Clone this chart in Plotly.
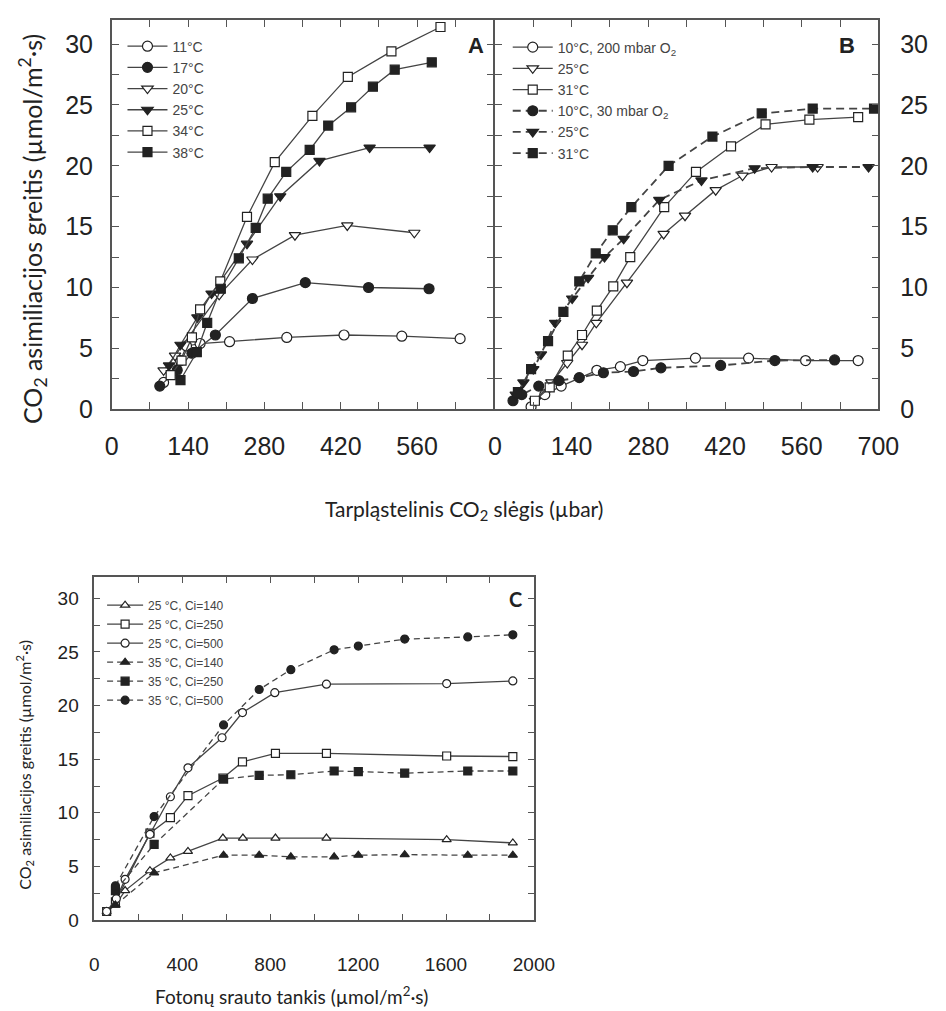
import plotly.graph_objects as go

# ---------------- DATA ----------------
# Panel A: intercellular CO2 (µbar) vs assimilation rate
a11_x = [95, 110, 126, 137, 162, 216, 321, 426, 532, 639]
a11_y = [2.2, 3.3, 4.0, 5.2, 5.4, 5.55, 5.9, 6.1, 6.0, 5.8]
a17_x = [88, 120, 147, 190, 258, 355, 471, 582]
a17_y = [1.9, 3.2, 4.6, 6.1, 9.1, 10.4, 10.0, 9.9]
a20_x = [95, 116, 197, 258, 336, 432, 555]
a20_y = [3.2, 4.4, 9.4, 12.3, 14.3, 15.1, 14.5]
a25_x = [105, 126, 157, 183, 248, 309, 381, 473, 583]
a25_y = [3.6, 5.3, 7.55, 9.5, 13.6, 17.5, 20.4, 21.5, 21.5]
a34_x = [108, 128, 147, 162, 199, 248, 299, 368, 433, 513, 603]
a34_y = [2.8, 4.0, 5.9, 8.2, 10.5, 15.8, 20.3, 24.1, 27.3, 29.4, 31.4]
a38_x = [126, 156, 175, 200, 233, 264, 286, 320, 363, 397, 439, 479, 519, 587]
a38_y = [2.4, 4.7, 7.1, 9.9, 12.4, 14.9, 17.3, 19.5, 21.3, 23.3, 24.8, 26.5, 27.9, 28.5]

# Panel B: 200 mbar O2 (open) and 30 mbar O2 (filled)
b10o_x = [66, 91, 121, 186, 229, 270, 366, 463, 567, 663]
b10o_y = [0.2, 1.2, 1.9, 3.2, 3.5, 4.0, 4.2, 4.2, 4.0, 4.0]
b25o_x = [73, 103, 132, 159, 185, 241, 308, 347, 403, 452, 505, 589]
b25o_y = [0.7, 2.2, 3.8, 5.3, 7.1, 10.4, 14.4, 15.9, 18.0, 19.2, 19.9, 19.9]
b31o_x = [73, 100, 133, 159, 186, 216, 247, 309, 367, 431, 494, 574, 663]
b31o_y = [0.7, 1.8, 4.4, 6.1, 8.1, 10.1, 12.5, 16.6, 19.5, 21.6, 23.4, 23.8, 24.0]
b10f_x = [33, 49, 80, 117, 154, 198, 253, 303, 412, 511, 620]
b10f_y = [0.7, 1.2, 1.9, 2.35, 2.6, 3.0, 3.1, 3.4, 3.6, 4.0, 4.05]
b25f_x = [38, 52, 70, 84, 110, 141, 170, 200, 235, 300, 377, 474, 580, 682]
b25f_y = [1.2, 2.2, 3.3, 4.5, 7.1, 9.1, 10.8, 12.5, 14.0, 17.2, 18.8, 19.8, 19.9, 19.9]
b31f_x = [42, 66, 97, 125, 154, 184, 215, 249, 317, 397, 487, 580, 692]
b31f_y = [1.4, 3.3, 5.6, 8.0, 10.5, 12.8, 14.7, 16.6, 20.0, 22.4, 24.3, 24.7, 24.7]

# Panel C: photon flux density vs assimilation rate
c25_140_x = [56, 96, 140, 253, 346, 426, 585, 676, 824, 1056, 1603, 1904]
c25_140_y = [0.8, 1.4, 2.75, 4.6, 5.8, 6.4, 7.65, 7.65, 7.65, 7.65, 7.5, 7.2]
c25_250_x = [56, 96, 253, 346, 426, 585, 674, 824, 1056, 1603, 1904]
c25_250_y = [0.8, 1.7, 8.1, 9.55, 11.6, 13.25, 14.75, 15.55, 15.55, 15.3, 15.25]
c25_500_x = [56, 100, 140, 253, 346, 426, 581, 674, 821, 1056, 1603, 1904]
c25_500_y = [0.8, 2.0, 3.8, 8.0, 11.5, 14.2, 17.0, 19.35, 21.2, 22.0, 22.05, 22.3]
c35_x = [96, 272, 588, 750, 894, 1091, 1201, 1412, 1699, 1904]
c35_140_y = [1.4, 4.4, 6.05, 6.05, 5.9, 5.9, 6.05, 6.1, 6.05, 6.05]
c35_250_y = [2.75, 7.05, 13.15, 13.5, 13.55, 13.9, 13.85, 13.7, 13.9, 13.9]
c35_500_y = [3.2, 9.65, 18.2, 21.5, 23.35, 25.2, 25.55, 26.2, 26.4, 26.6]

ab_ticks = [0, 70, 140, 210, 280, 350, 420, 490, 560, 630, 700]
a_ticktext = ["0", "", "140", "", "280", "", "420", "", "560", "", ""]
b_ticktext = ["0", "", "140", "", "280", "", "420", "", "560", "", "700"]
c_ticks = [0, 200, 400, 600, 800, 1000, 1200, 1400, 1600, 1800, 2000]
c_ticktext = ["0", "", "400", "", "800", "", "1200", "", "1600", "", "2000"]
y_ticks = [0, 2.5, 5, 7.5, 10, 12.5, 15, 17.5, 20, 22.5, 25, 27.5, 30]
y_ticktext = ["0", "", "5", "", "10", "", "15", "", "20", "", "25", "", "30"]

# ---------------- LAYOUT HELPERS ----------------
W, H = 946, 1011
def fx(p): return p / W
def fy(p): return 1 - p / H

LINE = "#444444"
EDGE = "#222222"

fig = go.Figure()

def add(x, y, name, symbol, filled, xa, ya, legend, dash="solid", size=10, lw=1.3):
    fig.add_trace(go.Scatter(
        x=x, y=y, name=name, mode="lines+markers",
        xaxis=xa, yaxis=ya, legend=legend,
        line=dict(color=LINE, width=lw, dash=dash),
        marker=dict(symbol=symbol, size=size,
                    color=EDGE if filled else "white",
                    line=dict(color=EDGE, width=1.2)),
    ))

# Panel A
add(a11_x, a11_y, "11°C", "circle", False, "x", "y", "legend")
add(a17_x, a17_y, "17°C", "circle", True, "x", "y", "legend")
add(a20_x, a20_y, "20°C", "triangle-down", False, "x", "y", "legend")
add(a25_x, a25_y, "25°C", "triangle-down", True, "x", "y", "legend")
add(a34_x, a34_y, "34°C", "square", False, "x", "y", "legend", size=9)
add(a38_x, a38_y, "38°C", "square", True, "x", "y", "legend", size=9)

# Panel B
BD = "8px,5px"
add(b10o_x, b10o_y, "10°C, 200 mbar O<sub>2</sub>", "circle", False, "x2", "y2", "legend2")
add(b25o_x, b25o_y, "25°C", "triangle-down", False, "x2", "y2", "legend2")
add(b31o_x, b31o_y, "31°C", "square", False, "x2", "y2", "legend2", size=9)
add(b10f_x, b10f_y, "10°C, 30 mbar O<sub>2</sub>", "circle", True, "x2", "y2", "legend2", dash=BD, lw=1.8)
add(b25f_x, b25f_y, "25°C", "triangle-down", True, "x2", "y2", "legend2", dash=BD, lw=1.8)
add(b31f_x, b31f_y, "31°C", "square", True, "x2", "y2", "legend2", dash=BD, size=9, lw=1.8)

# Panel C
CD = "6px,4px"
add(c25_140_x, c25_140_y, "25 °C, Ci=140", "triangle-up", False, "x3", "y3", "legend3", size=8)
add(c25_250_x, c25_250_y, "25 °C, Ci=250", "square", False, "x3", "y3", "legend3", size=8)
add(c25_500_x, c25_500_y, "25 °C, Ci=500", "circle", False, "x3", "y3", "legend3", size=8)
add(c35_x, c35_140_y, "35 °C, Ci=140", "triangle-up", True, "x3", "y3", "legend3", dash=CD, size=8)
add(c35_x, c35_250_y, "35 °C, Ci=250", "square", True, "x3", "y3", "legend3", dash=CD, size=8)
add(c35_x, c35_500_y, "35 °C, Ci=500", "circle", True, "x3", "y3", "legend3", dash=CD, size=8)

TICKFONT = dict(family="Liberation Sans, Arial, sans-serif", size=25, color="#222")
TICKFONT_C = dict(family="Liberation Sans, Arial, sans-serif", size=19, color="#222")
LW = 1.6

def axis(domain, rng, tv, tt, font, anchor, side=None, standoff=6, ticklen=7):
    d = dict(domain=domain, range=rng, tickmode="array", tickvals=tv, ticktext=tt,
             showline=True, linecolor="#555", linewidth=LW, mirror="ticks",
             ticks="inside", ticklen=ticklen, tickwidth=1.4, tickcolor="#555",
             showgrid=False, zeroline=False, tickfont=font, anchor=anchor,
             ticklabelstandoff=standoff)
    if side:
        d["side"] = side
    return d

ABy = [fy(415), fy(20)]
A_dom = [fx(108), fx(502 - LW / 2)]
B_dom = [fx(502 + LW / 2), fx(898)]
LEGF = "Liberation Sans, Arial, sans-serif"
fig.update_layout(
    width=W, height=H, margin=dict(l=0, r=0, t=0, b=0),
    paper_bgcolor="white", plot_bgcolor="white", showlegend=True,
    xaxis=axis(A_dom, [0, 700], ab_ticks, a_ticktext, TICKFONT, "y", standoff=14),
    yaxis=axis(ABy, [0, 32], y_ticks, y_ticktext, TICKFONT, "x", standoff=12),
    xaxis2=axis(B_dom, [0, 700], ab_ticks, b_ticktext, TICKFONT, "y2", standoff=14),
    yaxis2=axis(ABy, [0, 32], y_ticks, y_ticktext, TICKFONT, "x2", side="right", standoff=15),
    xaxis3=axis([fx(90), fx(543)], [0, 2000], c_ticks, c_ticktext, TICKFONT_C, "y3", standoff=26, ticklen=6),
    yaxis3=axis([fy(933), fy(585)], [0, 32], y_ticks, y_ticktext, TICKFONT_C, "x3", standoff=10, ticklen=6),
    legend=dict(x=fx(119), y=fy(31), xanchor="left", yanchor="top", bgcolor="rgba(0,0,0,0)",
                font=dict(family=LEGF, size=14, color="#444"),
                itemwidth=40, tracegroupgap=0),
    legend2=dict(x=fx(516), y=fy(32), xanchor="left", yanchor="top", bgcolor="rgba(0,0,0,0)",
                 font=dict(family=LEGF, size=14, color="#444"),
                 itemwidth=40, tracegroupgap=0),
    legend3=dict(x=fx(98), y=fy(599), xanchor="left", yanchor="top", bgcolor="rgba(0,0,0,0)",
                 font=dict(family=LEGF, size=12, color="#444"),
                 itemwidth=36, tracegroupgap=0),
)

TITLEF = "Lato, Noto Sans, sans-serif"
ann = [
    dict(text="<b>A</b>", x=fx(483), y=fy(46), font=dict(family="Liberation Sans, Arial", size=22, color="#222")),
    dict(text="<b>B</b>", x=fx(866), y=fy(46), font=dict(family="Liberation Sans, Arial", size=22, color="#222")),
    dict(text="<b>C</b>", x=fx(524), y=fy(607), font=dict(family=TITLEF, size=20, color="#222")),
    dict(text="CO<sub>2</sub> asimiliacijos greitis (µmol/m<sup>2</sup>·s)", x=fx(27), y=fy(232),
         textangle=-90, font=dict(family=TITLEF, size=25, color="#222")),
    dict(text="Tarpląstelinis CO<sub>2</sub> slėgis (µbar)", x=fx(471), y=fy(517),
         font=dict(family=TITLEF, size=21, color="#222")),
    dict(text="CO<sub>2</sub> asimiliacijos greitis (µmol/m<sup>2</sup>·s)", x=fx(18), y=fy(775),
         textangle=-90, font=dict(family=TITLEF, size=16, color="#222")),
    dict(text="Fotonų srauto tankis (µmol/m<sup>2</sup>·s)", x=fx(293), y=fy(1009),
         font=dict(family=TITLEF, size=19, color="#222")),
]
for a in ann:
    a.update(xref="paper", yref="paper", showarrow=False, xanchor="center", yanchor="middle")
fig.update_layout(annotations=ann)

fig.write_html("out.html")
